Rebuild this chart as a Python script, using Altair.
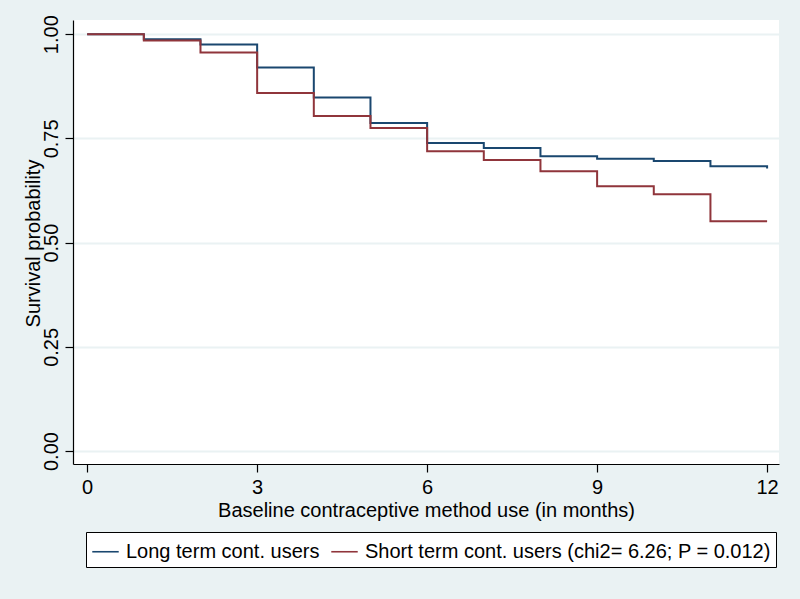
import altair as alt
import pandas as pd

months = [0, 1, 2, 3, 4, 5, 6, 7, 8, 9, 10, 11, 12]
long_term = [1.000, 0.988, 0.975, 0.920, 0.848, 0.787, 0.739, 0.727, 0.707, 0.701, 0.696, 0.683, 0.678]
short_term = [1.000, 0.985, 0.956, 0.859, 0.804, 0.775, 0.719, 0.698, 0.671, 0.635, 0.616, 0.551, 0.551]
series_names = ["Long term cont. users", "Short term cont. users (chi2= 6.26; P = 0.012)"]
series_colors = ["#1a476f", "#90353b"]
x_ticks = [0, 3, 6, 9, 12]
y_ticks = [0.0, 0.25, 0.5, 0.75, 1.0]

rows = []
for t, v in zip(months, long_term):
    rows.append({"month": t, "surv": v, "group": series_names[0]})
for t, v in zip(months, short_term):
    rows.append({"month": t, "surv": v, "group": series_names[1]})
df = pd.DataFrame(rows)

FONT = "Liberation Sans"

chart = alt.Chart(df).mark_line(interpolate="step-after", strokeWidth=2).encode(
    x=alt.X("month:Q",
            scale=alt.Scale(domain=[-0.25, 12.21], nice=False, zero=False),
            axis=alt.Axis(values=x_ticks, title="Baseline contraceptive method use (in months)",
                          grid=False, tickSize=8, labelPadding=5, titlePadding=3,
                          format="d")),
    y=alt.Y("surv:Q",
            scale=alt.Scale(domain=[-0.031, 1.034], nice=False, zero=False),
            axis=alt.Axis(values=y_ticks, title="Survival probability", format=".2f",
                          grid=True, gridColor="#eaf2f3", gridWidth=2,
                          tickSize=8, labelAngle=270, labelAlign="center",
                          labelBaseline="bottom", labelPadding=4,
                          titleX=-40, titleY=223, titleAngle=270,
                          titleBaseline="middle", titleAlign="center")),
    color=alt.Color("group:N",
                    scale=alt.Scale(domain=series_names, range=series_colors),
                    legend=alt.Legend(title=None, orient="none", legendX=13, legendY=512,
                                      direction="horizontal", columns=2,
                                      symbolType="stroke", symbolSize=700,
                                      symbolStrokeWidth=1.6,
                                      strokeColor="#000000", fillColor="#ffffff",
                                      padding=5, columnPadding=8, labelOffset=6,
                                      labelLimit=600,
                                      labelFontSize=20, labelFont=FONT, labelColor="#000000",
                                      symbolOffset=0)),
    order=alt.Order("group:N"),
).properties(
    width=706,
    height=444,
    background="#eaf2f3",
    padding={"left": 73, "top": 20, "right": 21, "bottom": 135},
    autosize=alt.AutoSizeParams(type="none"),
).configure_view(
    fill="#ffffff", stroke=None
).configure_axis(
    domainColor="#000000", tickColor="#000000", labelColor="#000000", titleColor="#000000",
    labelFont=FONT, titleFont=FONT, labelFontSize=20, titleFontSize=20,
    titleFontWeight="normal", domainWidth=1.2, tickWidth=1.2
)

chart.save("out.html", embed_options={"renderer": "svg", "actions": False})
